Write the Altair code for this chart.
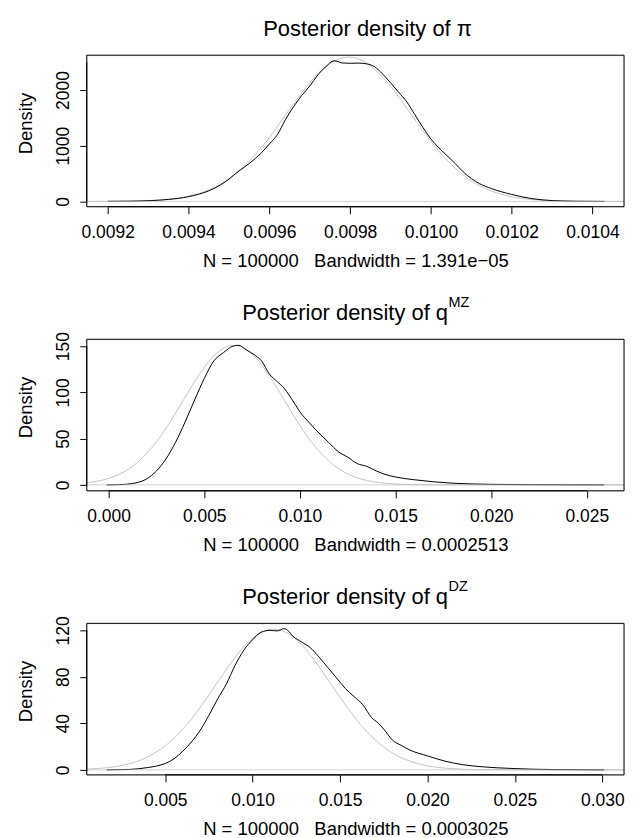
import altair as alt
import pandas as pd

FONT = "Liberation Sans"
W, H = 539, 152

# ---------------- Panel 1: pi ----------------
pi_black_x = [0.00920, 0.00925, 0.00930, 0.00935, 0.00940, 0.00945, 0.00948, 0.00950, 0.00952,
              0.00955, 0.00958, 0.00960, 0.00962, 0.00964, 0.00966, 0.00968, 0.00970, 0.00972,
              0.00974, 0.00976, 0.00977, 0.00978, 0.00980, 0.00982, 0.00984, 0.00986, 0.00988,
              0.00990, 0.00992, 0.00994, 0.00996, 0.00998, 0.01000, 0.01002, 0.01004, 0.01006,
              0.01008, 0.01010, 0.01012, 0.01015, 0.01020, 0.01025, 0.01030, 0.01035, 0.01040,
              0.01043]
pi_black_y = [2, 4, 12, 35, 85, 190, 300, 400, 520,
              680, 870, 1030, 1200, 1470, 1700, 1900, 2070, 2270,
              2420, 2525, 2510, 2485, 2480, 2483, 2470, 2420, 2290,
              2130, 1960, 1790, 1560, 1330, 1120, 960, 820, 680,
              530, 410, 320, 230, 125, 50, 15, 4, 1,
              0]
pi_gray_x = [0.009149, 0.009180, 0.009219, 0.009257, 0.009296, 0.009334, 0.009373, 0.009411,
             0.009450, 0.009488, 0.009527, 0.009565, 0.009604, 0.009642, 0.009681, 0.009719,
             0.009758, 0.009796, 0.009835, 0.009873, 0.009912, 0.009950, 0.009989, 0.010027,
             0.010066, 0.010104, 0.010143, 0.010181, 0.010220, 0.010258, 0.010297, 0.010335,
             0.010374, 0.010412, 0.010477]
pi_gray_y = [0, 0.9, 2.3, 5.7, 13, 29, 59, 114,
             206, 350, 560, 841, 1186, 1571, 1955, 2286,
             2510, 2590, 2510, 2286, 1955, 1571, 1186, 841,
             560, 350, 206, 114, 59, 29, 13, 5.7,
             2.3, 0.9, 0]

# ---------------- Panel 2: q^MZ ----------------
mz_black_x = [-0.0001, 0.0005, 0.0010, 0.0015, 0.0020, 0.0025, 0.0030, 0.0035, 0.0040, 0.0045,
              0.0050, 0.0055, 0.0060, 0.0065, 0.0068, 0.0072, 0.0076, 0.0080, 0.0084, 0.0088,
              0.0092, 0.0096, 0.0100, 0.0105, 0.0110, 0.0115, 0.0120, 0.0125, 0.0130, 0.0135,
              0.0140, 0.0145, 0.0150, 0.0160, 0.0170, 0.0180, 0.0190, 0.0200, 0.0220, 0.0259]
mz_black_y = [0, 0.2, 0.8, 2.5, 6.5, 15, 28, 46, 68, 92,
              115, 134, 143, 150, 151, 146, 141, 134, 120, 112,
              104, 92, 79, 67, 56, 46, 36, 30, 23, 20,
              15, 11, 8.5, 5.5, 3.3, 1.8, 1.0, 0.6, 0.2, 0]
mz_gray_x = [-0.00114, -0.00076, -0.00005, 0.00061, 0.00127, 0.00193, 0.00259, 0.00325,
             0.00391, 0.00457, 0.00523, 0.00589, 0.00655, 0.00721, 0.00787, 0.00853,
             0.00919, 0.00985, 0.01051, 0.01117, 0.01183, 0.01249, 0.01315, 0.01381,
             0.01447, 0.01579, 0.01711, 0.02694]
mz_gray_y = [2.1, 3.4, 6.6, 12.0, 20.4, 32.7, 49.0, 69.1,
             91.6, 114.0, 133.3, 146.3, 151.0, 146.3, 133.3, 114.0,
             91.6, 69.1, 49.0, 32.7, 20.4, 12.0, 6.6, 3.4,
             1.7, 0.33, 0.05, 0]

# ---------------- Panel 3: q^DZ ----------------
dz_black_x = [0.00165, 0.0025, 0.0030, 0.0035, 0.0040, 0.0045, 0.0050, 0.0055, 0.0060, 0.0065,
              0.0070, 0.0075, 0.0080, 0.0085, 0.0090, 0.0095, 0.0100, 0.0105, 0.0110, 0.0114,
              0.0118, 0.0120, 0.0123, 0.0128, 0.0133, 0.0138, 0.0143, 0.0148, 0.0153, 0.0158,
              0.0163, 0.0168, 0.0172, 0.0175, 0.0180, 0.0185, 0.0190, 0.0200, 0.0210, 0.0220,
              0.0230, 0.0250, 0.0270, 0.0301]
dz_black_y = [0, 0.2, 0.4, 1.0, 2.0, 3.3, 5.5, 9.5, 16, 24,
              34, 47, 61, 74, 90, 103, 112, 118.5, 120, 119.5,
              121.5, 120, 115, 110, 105, 97, 88, 79, 70, 63,
              56, 45, 40, 35, 25.5, 21, 17, 12, 7.5, 4.5,
              2.8, 1.1, 0.3, 0]
dz_gray_x = [0.00051, 0.00130, 0.00213, 0.00295, 0.00378, 0.00460, 0.00543, 0.00625,
             0.00708, 0.00790, 0.00873, 0.00955, 0.01038, 0.01120, 0.01203, 0.01285,
             0.01368, 0.01450, 0.01533, 0.01615, 0.01698, 0.01780, 0.01863, 0.01945,
             0.02028, 0.02110, 0.02275, 0.02440, 0.03124]
dz_gray_y = [0.64, 1.34, 2.76, 5.3, 9.6, 16.4, 26.2, 39.3,
             55.4, 73.4, 91.3, 106.8, 117.3, 121.0, 117.3, 106.8,
             91.3, 73.4, 55.4, 39.3, 26.2, 16.4, 9.6, 5.3,
             2.76, 1.34, 0.26, 0.04, 0]

# ---------------- axes / labels ----------------
pi_xticks = [0.0092, 0.0094, 0.0096, 0.0098, 0.0100, 0.0102, 0.0104]
pi_yticks = [0, 500, 1000, 1500, 2000, 2500]
mz_xticks = [0.000, 0.005, 0.010, 0.015, 0.020, 0.025]
mz_yticks = [0, 50, 100, 150]
dz_xticks = [0.005, 0.010, 0.015, 0.020, 0.025, 0.030]
dz_yticks = [0, 20, 40, 60, 80, 100, 120]

SP = "\u00a0\u00a0\u00a0"
pi_xtitle = "N = 100000" + SP + "Bandwidth = 1.391e\u221205"
mz_xtitle = "N = 100000" + SP + "Bandwidth = 0.0002513"
dz_xtitle = "N = 100000" + SP + "Bandwidth = 0.0003025"


def panel(bx, by, gx, gy, xdom, ydom, xticks, yticks, ylab_step, xfmt, xtitle,
          title_main, title_x, title_sup=None, sup_x=None):
    black = pd.DataFrame({"x": bx, "y": by})
    gray = pd.DataFrame({"x": gx, "y": gy})
    xs = alt.Scale(domain=xdom, nice=False, zero=False)
    ys = alt.Scale(domain=ydom, nice=False, zero=False)
    xaxis = alt.Axis(values=xticks, format=xfmt, tickSize=7, tickColor="black",
                     labelPadding=10, labelFontSize=17.5, labelColor="black", labelFont=FONT,
                     labelFlush=False, labelOverlap=False, labelBound=False,
                     domain=False, grid=False,
                     title=xtitle, titleFont=FONT, titleFontSize=18.5, titleFontWeight="normal",
                     titleColor="black", titleY=54, titleBaseline="middle")
    yaxis = alt.Axis(values=yticks, tickSize=7, tickColor="black",
                     labelExpr=f"datum.value % {ylab_step} === 0 ? format(datum.value, 'd') : ''",
                     labelAngle=270, labelAlign="center", labelBaseline="bottom",
                     labelPadding=7, labelFontSize=17.5, labelColor="black", labelFont=FONT,
                     labelFlush=False, labelOverlap=False, labelBound=False,
                     domain=False, grid=False,
                     title="Density", titleFont=FONT, titleFontSize=18.5, titleFontWeight="normal",
                     titleColor="black", titleAngle=270, titleX=-61, titleY=68,
                     titleAlign="center", titleBaseline="middle")

    g = alt.Chart(gray).mark_line(color="#c4c4c4", strokeWidth=1, interpolate="monotone").encode(
        x=alt.X("x:Q", scale=xs, axis=xaxis), y=alt.Y("y:Q", scale=ys, axis=yaxis))
    b = alt.Chart(black).mark_line(color="black", strokeWidth=1, interpolate="monotone").encode(
        x="x:Q", y="y:Q")
    zero = alt.Chart(pd.DataFrame({"y": [0]})).mark_rule(
        color="#bebebe", strokeWidth=1, opacity=0.7).encode(
        y="y:Q", x=alt.value(0), x2=alt.value(W))
    frame = alt.Chart(pd.DataFrame({"f": [0]})).mark_rect(
        fillOpacity=0, stroke="black", strokeWidth=1).encode(
        x=alt.value(0), x2=alt.value(W), y=alt.value(0), y2=alt.value(H))
    xline = alt.Chart(pd.DataFrame({"a": [xticks[0]], "b": [xticks[-1]]})).mark_rule(
        color="black", strokeWidth=1).encode(x="a:Q", x2="b:Q", y=alt.value(H))
    yline = alt.Chart(pd.DataFrame({"a": [yticks[0]], "b": [yticks[-1]]})).mark_rule(
        color="black", strokeWidth=1).encode(y="a:Q", y2="b:Q", x=alt.value(0))
    t = alt.Chart(pd.DataFrame({"t": [title_main]})).mark_text(
        font=FONT, fontSize=22, align="left", baseline="alphabetic", color="black").encode(
        text="t:N", x=alt.value(title_x), y=alt.value(-19))
    layers = [g, b, zero, frame, xline, yline, t]
    if title_sup:
        s = alt.Chart(pd.DataFrame({"t": [title_sup]})).mark_text(
            font=FONT, fontSize=14.5, align="left", baseline="alphabetic", color="black").encode(
            text="t:N", x=alt.value(sup_x), y=alt.value(-32))
        layers.append(s)
    return alt.layer(*layers).properties(width=W, height=H)


p1 = panel(pi_black_x, pi_black_y, pi_gray_x, pi_gray_y, [0.009148, 0.010478], [-95, 2625],
           pi_xticks, pi_yticks, 1000, ".4f", pi_xtitle, "Posterior density of \u03c0", 177)
p2 = panel(mz_black_x, mz_black_y, mz_gray_x, mz_gray_y, [-0.00114, 0.02694], [-6.4, 157.5],
           mz_xticks, mz_yticks, 50, ".3f", mz_xtitle, "Posterior density of q", 156, "MZ", 363)
p3 = panel(dz_black_x, dz_black_y, dz_gray_x, dz_gray_y, [0.00051, 0.03124], [-4.3, 126],
           dz_xticks, dz_yticks, 40, ".3f", dz_xtitle, "Posterior density of q", 156, "DZ", 363)

chart = alt.vconcat(p1, p2, p3, spacing=133, bounds="flush").properties(
    padding={"left": 8, "top": 8, "right": 0, "bottom": 0}
).configure_view(stroke="black", strokeWidth=1).configure(background="white")

chart.save("out.html", embed_options={"renderer": "svg", "actions": False})
